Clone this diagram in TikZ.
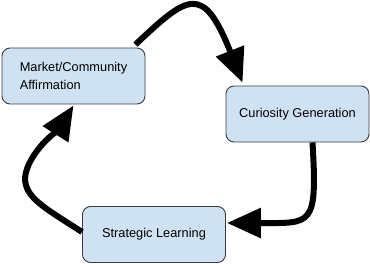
\documentclass[tikz,border=0pt]{standalone}
\usepackage{fontspec}
\setmainfont{Liberation Sans}
\usetikzlibrary{arrows.meta,positioning}
\definecolor{boxfill}{RGB}{207,226,243}
\definecolor{boxline}{RGB}{60,60,60}

\begin{document}
\begin{tikzpicture}[x=1pt, y=1pt,
    stagebox/.style={draw=boxline, fill=boxfill, rounded corners=8pt, line width=0.9pt,
                 minimum width=143pt, minimum height=56pt, align=left,
                 font=\fontsize{12.8}{17.7}\selectfont},
    arrow/.style={-{Triangle[length=34pt, width=29pt]}, line width=6pt},
  ]
  \useasboundingbox (0,0) rectangle (370,263);
  \node[stagebox] (m) at (73.5,187) {Market/Community\\Affirmation};
  \node[stagebox] (c) at (297.5,149) {Curiosity Generation};
  \node[stagebox] (s) at (154,28.5) {Strategic Learning};

  \draw[arrow] ([xshift=-10pt,yshift=3pt]m.north east)
    .. controls (188,268) and (203,280) .. ([xshift=17pt,yshift=3pt]c.north west);
  \draw[arrow] ([xshift=15pt]c.south)
    .. controls +(5,-85) and +(85,0) .. ([xshift=1pt,yshift=11.5pt]s.east);
  \draw[arrow] ([yshift=2.5pt]s.west)
    .. controls (45,55) and (25,65) .. (25,85)
    .. controls (27,110) and (60,136) .. ([yshift=-1pt]m.south);
\end{tikzpicture}
\end{document}
